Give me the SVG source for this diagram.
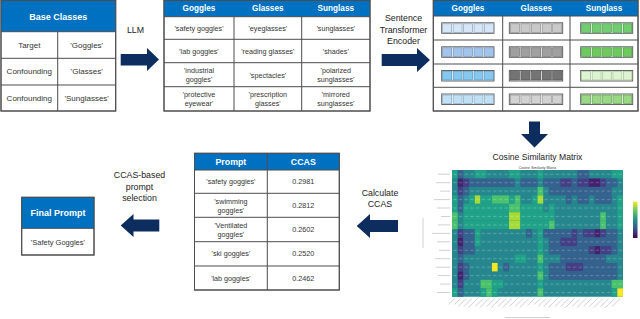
<svg xmlns="http://www.w3.org/2000/svg" width="640" height="319" viewBox="0 0 640 319">
<style>
text{font-family:"Liberation Sans",Arial,sans-serif;text-anchor:middle;dominant-baseline:central;fill:#333}
.hd{fill:#0070c0}
.ht{fill:#fff;font-weight:bold}
.ln{stroke:#4d4d4d;stroke-width:1;fill:none}
.box{fill:#fff;stroke:#4d4d4d;stroke-width:1}
.b{font-size:7.2px}
.lab{font-size:8.8px;fill:#222}
.arr{fill:#0c2d5e}
.bar{fill:#fff;stroke:#555;stroke-width:0.9}
.c0{fill:#45206e}.c1{fill:#433e85}.c2{fill:#34618d}.c3{fill:#25878d}.c4{fill:#1fa287}.c5{fill:#4ac16d}.c6{fill:#a5db36}.c7{fill:#f4e61e}
.tk{stroke:#c4c4c4;stroke-width:0.8}
</style>
<defs>
<pattern id="nums" patternUnits="userSpaceOnUse" width="1" height="1">
<rect x="0.22" y="0.43" width="0.56" height="0.14" fill="#fff" fill-opacity="0.22"/>
</pattern>
<linearGradient id="vir" x1="0" y1="0" x2="0" y2="1">
<stop offset="0" stop-color="#fde725"/><stop offset="0.25" stop-color="#5ec962"/><stop offset="0.5" stop-color="#21918c"/><stop offset="0.75" stop-color="#3b528b"/><stop offset="1" stop-color="#440154"/>
</linearGradient>
</defs>
<rect width="640" height="319" fill="#fff"/>

<g id="base-classes">
<rect class="box" x="1" y="0.5" width="114.7" height="110.5"/>
<rect class="hd" x="1" y="0.5" width="114.7" height="31.2"/>
<path class="ln" d="M1 31.7H115.7M1 58.3H115.7M1 85H115.7M57.7 31.7V111"/>
<rect class="ln" x="1" y="0.5" width="114.7" height="110.5"/>
<text class="ht" x="58.3" y="16.5" font-size="9">Base Classes</text>
<text x="29.3" y="45" style="font-size:8px">Target</text>
<text x="86.7" y="45" style="font-size:8px">'Goggles'</text>
<text x="29.3" y="71.7" style="font-size:8px">Confounding</text>
<text x="86.7" y="71.7" style="font-size:8px">'Glasses'</text>
<text x="29.3" y="98" style="font-size:8px">Confounding</text>
<text x="86.7" y="98" style="font-size:8px">'Sunglasses'</text>
</g>

<g id="llm-prompts">
<rect class="box" x="164" y="0.5" width="206" height="110.5"/>
<rect class="hd" x="164" y="0.5" width="206" height="16.2"/>
<path class="ln" d="M164 16.7H370M164 39.3H370M164 62.7H370M164 86.7H370M234 16.7V111M301.7 16.7V111"/>
<rect class="ln" x="164" y="0.5" width="206" height="110.5"/>
<text class="ht" x="199" y="8.7" font-size="8.2">Goggles</text>
<text class="ht" x="267.8" y="8.7" font-size="8.2">Glasses</text>
<text class="ht" x="335.8" y="8.7" font-size="8.2">Sunglass</text>
<text class="b" x="199" y="28">'safety goggles'</text>
<text class="b" x="267.8" y="28">'eyeglasses'</text>
<text class="b" x="335.8" y="28">'sunglasses'</text>
<text class="b" x="199" y="51">'lab goggles'</text>
<text class="b" x="267.8" y="51">'reading glasses'</text>
<text class="b" x="335.8" y="51">'shades'</text>
<text class="b" x="199" y="70.5">'industrial</text>
<text class="b" x="199" y="79.5">goggles'</text>
<text class="b" x="267.8" y="75">'spectacles'</text>
<text class="b" x="335.8" y="70.5">'polarized</text>
<text class="b" x="335.8" y="79.5">sunglasses'</text>
<text class="b" x="199" y="94.5">'protective</text>
<text class="b" x="199" y="103.5">eyewear'</text>
<text class="b" x="267.8" y="94.5">'prescription</text>
<text class="b" x="267.8" y="103.5">glasses'</text>
<text class="b" x="335.8" y="94.5">'mirrored</text>
<text class="b" x="335.8" y="103.5">sunglasses'</text>
</g>

<g id="embeddings">
<rect class="box" x="433.3" y="0.5" width="204.7" height="110.5"/>
<rect class="hd" x="433.3" y="0.5" width="204.7" height="15.5"/>
<path class="ln" d="M433.3 16H638M433.3 40H638M433.3 64H638M433.3 87.3H638M502.7 16V111M570 16V111"/>
<rect class="ln" x="433.3" y="0.5" width="204.7" height="110.5"/>
<text class="ht" x="468" y="8.4" font-size="8.2">Goggles</text>
<text class="ht" x="536.3" y="8.4" font-size="8.2">Glasses</text>
<text class="ht" x="604" y="8.4" font-size="8.2">Sunglass</text>
<g stroke-width="0.6">
<rect class="bar" x="441.7" y="22.8" width="52.3" height="10.5"/>
<g fill="#d4e6f7" stroke="#8196ad"><rect x="442.7" y="23.8" width="9" height="8.5"/><rect x="453.1" y="23.8" width="9" height="8.5"/><rect x="463.6" y="23.8" width="9" height="8.5"/><rect x="474" y="23.8" width="9" height="8.5"/><rect x="484.5" y="23.8" width="9" height="8.5"/></g>
<rect class="bar" x="509.3" y="22.8" width="53.4" height="10.5"/>
<g fill="#c9c9c9" stroke="#808080"><rect x="510.3" y="23.8" width="9.2" height="8.5"/><rect x="520.9" y="23.8" width="9.2" height="8.5"/><rect x="531.5" y="23.8" width="9.2" height="8.5"/><rect x="542.1" y="23.8" width="9.2" height="8.5"/><rect x="552.7" y="23.8" width="9.2" height="8.5"/></g>
<rect class="bar" x="580.7" y="22.8" width="52" height="10.5"/>
<g fill="#72cd72" stroke="#3f8f3f"><rect x="581.7" y="23.8" width="9" height="8.5"/><rect x="592.1" y="23.8" width="9" height="8.5"/><rect x="602.5" y="23.8" width="9" height="8.5"/><rect x="612.9" y="23.8" width="9" height="8.5"/><rect x="623.3" y="23.8" width="8.6" height="8.5"/></g>
<rect class="bar" x="441.7" y="46.8" width="52.3" height="10.5"/>
<g fill="#a3c4ea" stroke="#6486b0"><rect x="442.7" y="47.8" width="9" height="8.5"/><rect x="453.1" y="47.8" width="9" height="8.5"/><rect x="463.6" y="47.8" width="9" height="8.5"/><rect x="474" y="47.8" width="9" height="8.5"/><rect x="484.5" y="47.8" width="9" height="8.5"/></g>
<rect class="bar" x="509.3" y="46.8" width="53.4" height="10.5"/>
<g fill="#a0a0a0" stroke="#666"><rect x="510.3" y="47.8" width="9.2" height="8.5"/><rect x="520.9" y="47.8" width="9.2" height="8.5"/><rect x="531.5" y="47.8" width="9.2" height="8.5"/><rect x="542.1" y="47.8" width="9.2" height="8.5"/><rect x="552.7" y="47.8" width="9.2" height="8.5"/></g>
<rect class="bar" x="580.7" y="46.8" width="52" height="10.5"/>
<g fill="#6fca5e" stroke="#3f8f3f"><rect x="581.7" y="47.8" width="9" height="8.5"/><rect x="592.1" y="47.8" width="9" height="8.5"/><rect x="602.5" y="47.8" width="9" height="8.5"/><rect x="612.9" y="47.8" width="9" height="8.5"/><rect x="623.3" y="47.8" width="8.6" height="8.5"/></g>
<rect class="bar" x="441.7" y="70.5" width="52.3" height="10.5"/>
<g fill="#84c8ef" stroke="#4f8bb0"><rect x="442.7" y="71.5" width="9" height="8.5"/><rect x="453.1" y="71.5" width="9" height="8.5"/><rect x="463.6" y="71.5" width="9" height="8.5"/><rect x="474" y="71.5" width="9" height="8.5"/><rect x="484.5" y="71.5" width="9" height="8.5"/></g>
<rect class="bar" x="509.3" y="70.5" width="53.4" height="10.5"/>
<g fill="#747474" stroke="#4a4a4a"><rect x="510.3" y="71.5" width="9.2" height="8.5"/><rect x="520.9" y="71.5" width="9.2" height="8.5"/><rect x="531.5" y="71.5" width="9.2" height="8.5"/><rect x="542.1" y="71.5" width="9.2" height="8.5"/><rect x="552.7" y="71.5" width="9.2" height="8.5"/></g>
<rect class="bar" x="580.7" y="70.5" width="52" height="10.5"/>
<g fill="#def3d4" stroke="#94bd84"><rect x="581.7" y="71.5" width="9" height="8.5"/><rect x="592.1" y="71.5" width="9" height="8.5"/><rect x="602.5" y="71.5" width="9" height="8.5"/><rect x="612.9" y="71.5" width="9" height="8.5"/><rect x="623.3" y="71.5" width="8.6" height="8.5"/></g>
<rect class="bar" x="441.7" y="94" width="52.3" height="10.5"/>
<g fill="#c0e0f5" stroke="#7c9fb8"><rect x="442.7" y="95" width="9" height="8.5"/><rect x="453.1" y="95" width="9" height="8.5"/><rect x="463.6" y="95" width="9" height="8.5"/><rect x="474" y="95" width="9" height="8.5"/><rect x="484.5" y="95" width="9" height="8.5"/></g>
<rect class="bar" x="509.3" y="94" width="53.4" height="10.5"/>
<g fill="#d2d2d2" stroke="#878787"><rect x="510.3" y="95" width="9.2" height="8.5"/><rect x="520.9" y="95" width="9.2" height="8.5"/><rect x="531.5" y="95" width="9.2" height="8.5"/><rect x="542.1" y="95" width="9.2" height="8.5"/><rect x="552.7" y="95" width="9.2" height="8.5"/></g>
<rect class="bar" x="580.7" y="94" width="52" height="10.5"/>
<g fill="#9bd886" stroke="#559748"><rect x="581.7" y="95" width="9" height="8.5"/><rect x="592.1" y="95" width="9" height="8.5"/><rect x="602.5" y="95" width="9" height="8.5"/><rect x="612.9" y="95" width="9" height="8.5"/><rect x="623.3" y="95" width="8.6" height="8.5"/></g>
</g>
</g>

<g id="cosine-matrix">
<text x="537.5" y="156.5" style="font-size:8.6px;fill:#222">Cosine Similarity Matrix</text>
<text x="537.5" y="167.6" style="font-size:3.6px;fill:#444">Cosine Similarity Matrix</text>
<g transform="translate(452,170) scale(5.7,8.45)">
<rect class="c3" x="0" y="0" width="30" height="15"/>
<g>
<rect class="c4" x="0" y="0" width="1" height="1"/><rect class="c2" x="1" y="0" width="1" height="1"/><rect class="c4" x="4" y="0" width="2" height="1"/><rect class="c4" x="10" y="0" width="2" height="1"/><rect class="c4" x="15" y="0" width="1" height="1"/><rect class="c2" x="22" y="0" width="2" height="1"/><rect class="c4" x="28" y="0" width="2" height="1"/>
<rect class="c0" x="1" y="1" width="1" height="1"/><rect class="c1" x="2" y="1" width="1" height="1"/><rect class="c2" x="3" y="1" width="8" height="1"/><rect class="c2" x="12" y="1" width="3" height="1"/><rect class="c2" x="16" y="1" width="3" height="1"/><rect class="c1" x="19" y="1" width="2" height="1"/><rect class="c2" x="21" y="1" width="1" height="1"/><rect class="c1" x="22" y="1" width="2" height="1"/><rect class="c0" x="24" y="1" width="2" height="1"/><rect class="c1" x="26" y="1" width="1" height="1"/><rect class="c2" x="27" y="1" width="2" height="1"/>
<rect class="c1" x="1" y="2" width="1" height="1"/><rect class="c2" x="2" y="2" width="1" height="1"/><rect class="c5" x="15" y="2" width="1" height="1"/><rect class="c2" x="17" y="2" width="11" height="1"/>
<rect class="c4" x="0" y="3" width="1" height="1"/><rect class="c2" x="1" y="3" width="1" height="1"/><rect class="c4" x="3" y="3" width="1" height="1"/><rect class="c6" x="4" y="3" width="1" height="1"/><rect class="c4" x="5" y="3" width="2" height="1"/><rect class="c5" x="7" y="3" width="3" height="1"/><rect class="c4" x="10" y="3" width="1" height="1"/><rect class="c5" x="11" y="3" width="1" height="1"/><rect class="c4" x="14" y="3" width="1" height="1"/><rect class="c6" x="15" y="3" width="1" height="1"/><rect class="c2" x="20" y="3" width="1" height="1"/><rect class="c2" x="22" y="3" width="2" height="1"/><rect class="c2" x="25" y="3" width="3" height="1"/><rect class="c4" x="29" y="3" width="1" height="1"/>
<rect class="c4" x="0" y="4" width="1" height="1"/><rect class="c2" x="1" y="4" width="1" height="1"/><rect class="c4" x="2" y="4" width="8" height="1"/><rect class="c5" x="10" y="4" width="2" height="1"/><rect class="c4" x="12" y="4" width="4" height="1"/><rect class="c4" x="17" y="4" width="1" height="1"/><rect class="c4" x="29" y="4" width="1" height="1"/>
<rect class="c5" x="0" y="5" width="1" height="1"/><rect class="c4" x="2" y="5" width="8" height="1"/><rect class="c6" x="10" y="5" width="2" height="1"/><rect class="c4" x="12" y="5" width="6" height="1"/><rect class="c5" x="26" y="5" width="1" height="1"/><rect class="c4" x="29" y="5" width="1" height="1"/>
<rect class="c5" x="0" y="6" width="1" height="1"/><rect class="c4" x="2" y="6" width="8" height="1"/><rect class="c6" x="10" y="6" width="2" height="1"/><rect class="c4" x="12" y="6" width="5" height="1"/><rect class="c5" x="17" y="6" width="1" height="1"/><rect class="c5" x="26" y="6" width="1" height="1"/><rect class="c4" x="29" y="6" width="1" height="1"/>
<rect class="c1" x="1" y="7" width="1" height="1"/><rect class="c2" x="2" y="7" width="2" height="1"/><rect class="c4" x="4" y="7" width="1" height="1"/><rect class="c2" x="13" y="7" width="1" height="1"/><rect class="c4" x="15" y="7" width="1" height="1"/><rect class="c2" x="16" y="7" width="5" height="1"/><rect class="c1" x="21" y="7" width="1" height="1"/><rect class="c2" x="22" y="7" width="1" height="1"/><rect class="c1" x="23" y="7" width="2" height="1"/><rect class="c0" x="25" y="7" width="1" height="1"/><rect class="c1" x="26" y="7" width="1" height="1"/><rect class="c2" x="27" y="7" width="2" height="1"/>
<rect class="c0" x="1" y="8" width="1" height="1"/><rect class="c2" x="2" y="8" width="2" height="1"/><rect class="c4" x="4" y="8" width="1" height="1"/><rect class="c4" x="15" y="8" width="1" height="1"/><rect class="c2" x="17" y="8" width="2" height="1"/><rect class="c1" x="19" y="8" width="3" height="1"/><rect class="c2" x="22" y="8" width="7" height="1"/>
<rect class="c1" x="1" y="9" width="1" height="1"/><rect class="c2" x="2" y="9" width="2" height="1"/><rect class="c4" x="15" y="9" width="1" height="1"/><rect class="c2" x="17" y="9" width="7" height="1"/><rect class="c1" x="24" y="9" width="1" height="1"/><rect class="c0" x="25" y="9" width="1" height="1"/><rect class="c1" x="26" y="9" width="2" height="1"/><rect class="c2" x="28" y="9" width="1" height="1"/>
<rect class="c2" x="1" y="10" width="1" height="1"/><rect class="c4" x="11" y="10" width="2" height="1"/><rect class="c5" x="15" y="10" width="1" height="1"/><rect class="c2" x="19" y="10" width="8" height="1"/>
<rect class="c1" x="1" y="11" width="1" height="1"/><rect class="c2" x="2" y="11" width="1" height="1"/><rect class="c7" x="7" y="11" width="1" height="1"/><rect class="c2" x="9" y="11" width="1" height="1"/><rect class="c4" x="15" y="11" width="1" height="1"/><rect class="c2" x="17" y="11" width="3" height="1"/><rect class="c1" x="20" y="11" width="3" height="1"/><rect class="c2" x="23" y="11" width="6" height="1"/>
<rect class="c0" x="1" y="12" width="1" height="1"/><rect class="c2" x="2" y="12" width="1" height="1"/><rect class="c5" x="15" y="12" width="1" height="1"/><rect class="c2" x="17" y="12" width="12" height="1"/>
<rect class="c1" x="1" y="13" width="1" height="1"/><rect class="c5" x="5" y="13" width="2" height="1"/><rect class="c4" x="7" y="13" width="2" height="1"/><rect class="c4" x="15" y="13" width="1" height="1"/><rect class="c5" x="28" y="13" width="2" height="1"/>
<rect class="c4" x="0" y="14" width="1" height="1"/><rect class="c2" x="1" y="14" width="1" height="1"/><rect class="c4" x="5" y="14" width="1" height="1"/><rect class="c5" x="6" y="14" width="1" height="1"/><rect class="c4" x="7" y="14" width="1" height="1"/><rect class="c5" x="15" y="14" width="1" height="1"/><rect class="c4" x="28" y="14" width="1" height="1"/><rect class="c7" x="29" y="14" width="1" height="1"/>
</g>
<rect x="0" y="0" width="30" height="15" fill="url(#nums)"/>
</g>
<g class="tk">
<path d="M438 174.2H450M436 182.7H450M440 191.1H450M434 199.6H450M437 208H450M441 216.5H450M438 224.9H450M432 233.4H450M437 241.8H450M439 250.3H450M435 258.7H450M436 267.2H450M438 275.6H450M440 284.1H450M437 292.5H450"/>
<path d="M423 218V248M505 317.5H550"/>
<path d="M454.8 298.5l-6 6M460.5 298.5l-6 6M466.2 298.5l-8 8M471.9 298.5l-8 8M477.6 298.5l-9 9M483.3 298.5l-8 8M489 298.5l-9 9M494.7 298.5l-8 8M500.4 298.5l-9 9M506.1 298.5l-8 8M511.8 298.5l-9 9M517.5 298.5l-8 8M523.2 298.5l-8 8M528.9 298.5l-9 9M534.6 298.5l-7 7M540.3 298.5l-6 6M546 298.5l-8 8M551.7 298.5l-8 8M557.4 298.5l-9 9M563.1 298.5l-8 8M568.8 298.5l-8 8M574.5 298.5l-9 9M580.2 298.5l-8 8M585.9 298.5l-9 9M591.6 298.5l-8 8M597.3 298.5l-8 8M603 298.5l-9 9M608.7 298.5l-8 8M614.4 298.5l-9 9M620.1 298.5l-8 8"/>
</g>
<rect x="633" y="201.7" width="4.5" height="36.3" fill="url(#vir)"/>
</g>

<g id="ccas-table">
<rect class="box" x="194.5" y="153.3" width="144.8" height="136.7"/>
<rect class="hd" x="194.5" y="153.3" width="144.8" height="16.7"/>
<path class="ln" d="M194.5 170H339.3M194.5 193.3H339.3M194.5 217.3H339.3M194.5 241.7H339.3M194.5 266H339.3M267.3 153.3V290"/>
<rect class="ln" x="194.5" y="153.3" width="144.8" height="136.7"/>
<text class="ht" x="230.9" y="161.8" font-size="8.8">Prompt</text>
<text class="ht" x="303.3" y="161.8" font-size="8.8">CCAS</text>
<text class="b" x="230.9" y="181.7">'safety goggles'</text>
<text class="b" x="303.3" y="181.7">0.2981</text>
<text class="b" x="230.9" y="201.5">'swimming</text>
<text class="b" x="230.9" y="210.5">goggles'</text>
<text class="b" x="303.3" y="205.3">0.2812</text>
<text class="b" x="230.9" y="225">'Ventilated</text>
<text class="b" x="230.9" y="234">goggles'</text>
<text class="b" x="303.3" y="229.5">0.2602</text>
<text class="b" x="230.9" y="253.8">'ski goggles'</text>
<text class="b" x="303.3" y="253.8">0.2520</text>
<text class="b" x="230.9" y="278">'lab goggles'</text>
<text class="b" x="303.3" y="278">0.2462</text>
</g>

<g id="final-prompt">
<rect class="box" x="21.7" y="197.3" width="72.3" height="57.7"/>
<rect class="hd" x="21.7" y="197.3" width="72.3" height="31"/>
<path class="ln" d="M21.7 228.3H94"/>
<rect class="ln" x="21.7" y="197.3" width="72.3" height="57.7"/>
<text class="ht" x="57.9" y="213" font-size="9">Final Prompt</text>
<text x="57.9" y="242" style="font-size:7.5px">'Safety Goggles'</text>
</g>

<g id="connectors">
<polygon class="arr" points="120.7,54 147,54 147,48 159,59.5 147,71 147,65.5 120.7,65.5"/>
<text class="lab" x="135.5" y="30">LLM</text>
<polygon class="arr" points="381.7,54 417,54 417,48 430,60 417,72 417,66 381.7,66"/>
<text class="lab" x="403.5" y="18">Sentence</text>
<text class="lab" x="403.5" y="29.5">Transformer</text>
<text class="lab" x="403.5" y="41">Encoder</text>
<polygon class="arr" points="529,121.5 540,121.5 540,134 548,134 534.5,147.5 521,134 529,134"/>
<polygon class="arr" points="398,220 370,220 370,214 356.7,226 370,238 370,232 398,232"/>
<text class="lab" x="380" y="193.3">Calculate</text>
<text class="lab" x="380" y="203.8">CCAS</text>
<polygon class="arr" points="159.3,219.5 133.5,219.5 133.5,214 120.7,225.5 133.5,237 133.5,231.5 159.3,231.5"/>
<text class="lab" x="139.5" y="175">CCAS-based</text>
<text class="lab" x="139.5" y="186.5">prompt</text>
<text class="lab" x="139.5" y="197.5">selection</text>
</g>
</svg>
